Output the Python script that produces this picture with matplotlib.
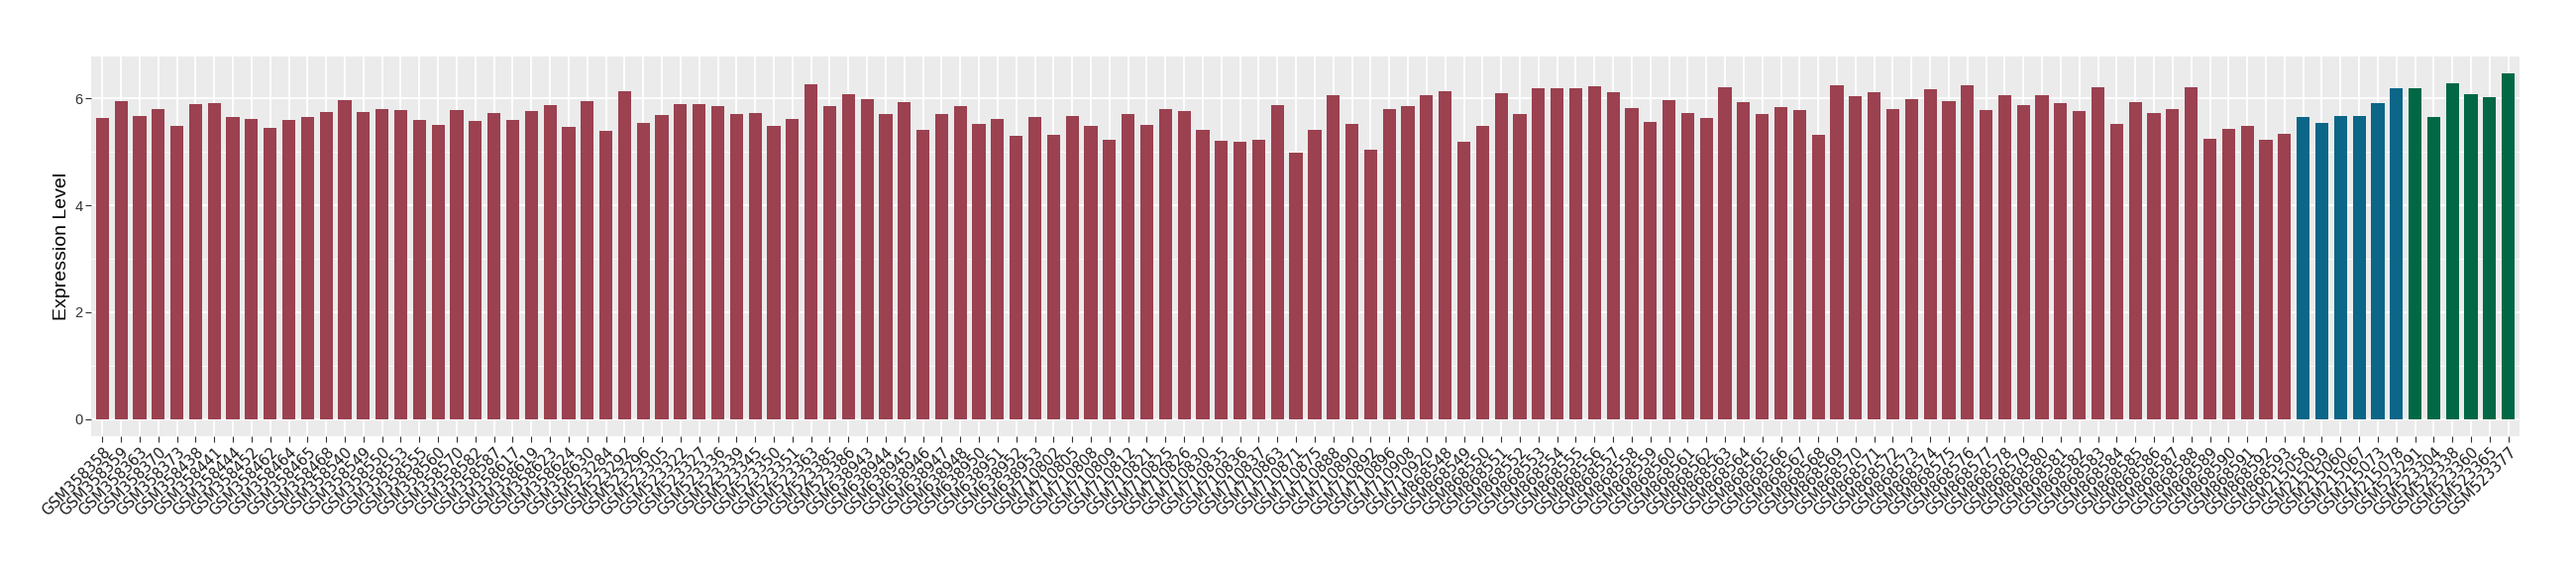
import matplotlib
matplotlib.use("Agg")
import matplotlib.pyplot as plt
from matplotlib.ticker import MultipleLocator

samples = [
    "GSM358358", "GSM358359", "GSM358363", "GSM358370", "GSM358373", "GSM358438",
    "GSM358441", "GSM358444", "GSM358452", "GSM358462", "GSM358464", "GSM358465",
    "GSM358468", "GSM358540", "GSM358549", "GSM358550", "GSM358553", "GSM358555",
    "GSM358560", "GSM358570", "GSM358582", "GSM358587", "GSM358617", "GSM358619",
    "GSM358623", "GSM358624", "GSM358630", "GSM523284", "GSM523292", "GSM523296",
    "GSM523305", "GSM523322", "GSM523327", "GSM523336", "GSM523339", "GSM523345",
    "GSM523350", "GSM523351", "GSM523363", "GSM523385", "GSM523386", "GSM638943",
    "GSM638944", "GSM638945", "GSM638946", "GSM638947", "GSM638948", "GSM638950",
    "GSM638951", "GSM638952", "GSM638953", "GSM710802", "GSM710805", "GSM710808",
    "GSM710809", "GSM710812", "GSM710821", "GSM710825", "GSM710826", "GSM710830",
    "GSM710835", "GSM710836", "GSM710837", "GSM710863", "GSM710871", "GSM710875",
    "GSM710888", "GSM710890", "GSM710892", "GSM710896", "GSM710908", "GSM710920",
    "GSM868548", "GSM868549", "GSM868550", "GSM868551", "GSM868552", "GSM868553",
    "GSM868554", "GSM868555", "GSM868556", "GSM868557", "GSM868558", "GSM868559",
    "GSM868560", "GSM868561", "GSM868562", "GSM868563", "GSM868564", "GSM868565",
    "GSM868566", "GSM868567", "GSM868568", "GSM868569", "GSM868570", "GSM868571",
    "GSM868572", "GSM868573", "GSM868574", "GSM868575", "GSM868576", "GSM868577",
    "GSM868578", "GSM868579", "GSM868580", "GSM868581", "GSM868582", "GSM868583",
    "GSM868584", "GSM868585", "GSM868586", "GSM868587", "GSM868588", "GSM868589",
    "GSM868590", "GSM868591", "GSM868592", "GSM868593",
    "GSM215058", "GSM215059", "GSM215060", "GSM215067", "GSM215073", "GSM215078",
    "GSM523291", "GSM523304", "GSM523338", "GSM523360", "GSM523365", "GSM523377",
]

values = [
    5.64, 5.95, 5.67, 5.80, 5.49, 5.90, 5.91, 5.65, 5.62, 5.45, 5.60, 5.65,
    5.75, 5.97, 5.75, 5.80, 5.78, 5.60, 5.51, 5.78, 5.58, 5.73, 5.60, 5.77,
    5.88, 5.47, 5.95, 5.40, 6.14, 5.54, 5.69, 5.90, 5.90, 5.86, 5.71, 5.73,
    5.49, 5.62, 6.27, 5.86, 6.08, 5.99, 5.71, 5.93, 5.41, 5.71, 5.86, 5.52,
    5.62, 5.30, 5.65, 5.32, 5.67, 5.49, 5.23, 5.71, 5.51, 5.80, 5.77, 5.41,
    5.21, 5.19, 5.23, 5.88, 4.99, 5.41, 6.06, 5.52, 5.04, 5.80, 5.86, 6.06,
    6.14, 5.19, 5.49, 6.10, 5.71, 6.19, 6.19, 6.19, 6.23, 6.12, 5.82, 5.56,
    5.97, 5.73, 5.64, 6.21, 5.93, 5.71, 5.84, 5.78, 5.32, 6.25, 6.04, 6.12,
    5.80, 5.99, 6.17, 5.95, 6.25, 5.78, 6.06, 5.88, 6.06, 5.91, 5.77, 6.21,
    5.52, 5.93, 5.73, 5.80, 6.21, 5.25, 5.43, 5.49, 5.23, 5.34,
    5.65, 5.54, 5.67, 5.67, 5.91, 6.19,
    6.19, 5.65, 6.28, 6.08, 6.02, 6.47,
]

groups = ["A"] * 118 + ["B"] * 6 + ["C"] * 6
group_colors = {"A": "#9B4150", "B": "#0B6688", "C": "#006845"}

fig = plt.figure(figsize=(26, 5.8), dpi=100)
ax = fig.add_axes([92 / 2600, 140 / 580, (2543 - 92) / 2600, (440 - 56.7) / 580])
ax.set_facecolor("#EBEBEB")

x = list(range(len(samples)))
colors = [group_colors[g] for g in groups]
ax.bar(x, values, width=0.7, color=colors, zorder=3)

ax.set_xlim(-0.6, len(samples) - 1 + 0.6)
ax.set_ylim(-0.32, 6.79)
ax.yaxis.set_major_locator(MultipleLocator(2))
ax.yaxis.set_minor_locator(MultipleLocator(1))
ax.grid(which="major", axis="both", color="white", linewidth=1.3, zorder=0)
ax.grid(which="minor", axis="y", color="white", linewidth=0.6, zorder=0)
ax.set_axisbelow(True)

for s in ax.spines.values():
    s.set_visible(False)

ax.set_xticks(x)
ax.set_xticklabels(samples, rotation=45, ha="right", rotation_mode="anchor",
                   fontsize=10.7, family="DejaVu Sans", color="#1A1A1A")
ax.tick_params(axis="x", which="major", length=4, color="#333333", pad=2)
ax.tick_params(axis="y", which="major", length=4, color="#333333", pad=2,
               labelsize=10.5, labelcolor="#4D4D4D")
ax.tick_params(axis="y", which="minor", length=0)
for lab in ax.get_yticklabels():
    lab.set_family("Liberation Sans")
    lab.set_color("#333333")

ax.set_ylabel("Expression Level", fontsize=14, family="Liberation Sans", labelpad=3)

fig.savefig("out.png", dpi=100)
